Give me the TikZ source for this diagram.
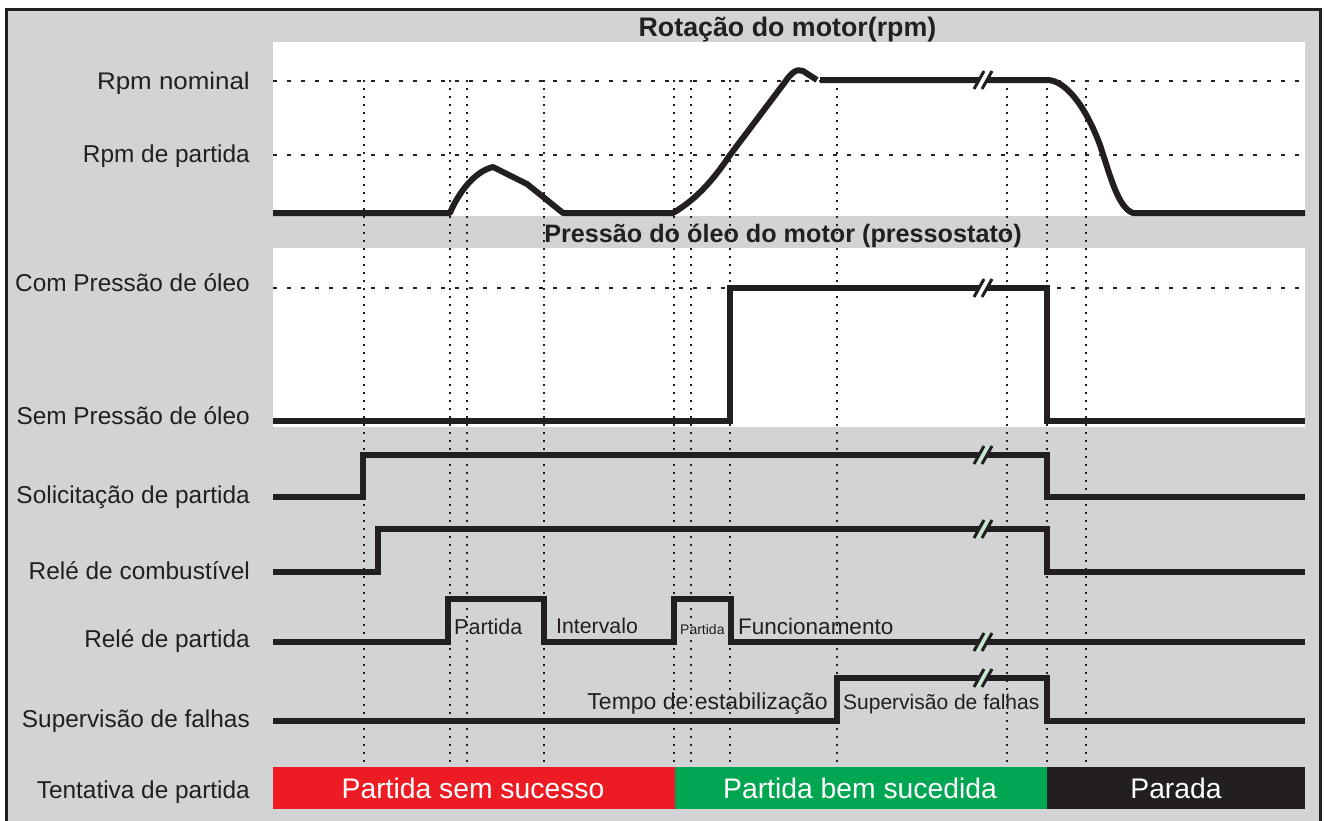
\documentclass[tikz,border=0pt]{standalone}
\usepackage{fontspec}
\setmainfont{Liberation Sans}
\newfontfamily\widefont[FakeStretch=1.08]{Liberation Sans}
\definecolor{ink}{HTML}{231F20}
\definecolor{bggray}{HTML}{D1D3D4}
\definecolor{barred}{HTML}{ED1C24}
\definecolor{bargreen}{HTML}{00A651}
\definecolor{brkgreen}{HTML}{C9E6D0}
\tikzset{
 lbl/.style={anchor=base east, font=\fontsize{24.4}{28}\selectfont, text=ink, inner sep=0pt},
 ttl/.style={anchor=base, text=ink, inner sep=0pt},
 sig/.style={line width=6pt, draw=ink, line join=miter},
 hdot/.style={line width=2.5pt, draw=ink, dash pattern=on 4pt off 10pt},
 vdot/.style={line width=2pt, draw=ink, dash pattern=on 2.2pt off 5.8pt},
 vdotb/.style={vdot, line width=2.8pt},
 inl/.style={anchor=base west, text=ink, inner sep=0pt},
 barlbl/.style={anchor=base, text=white, font=\fontsize{28.3}{33}\selectfont, inner sep=0pt},
 pics/brk/.style={code={
   \fill[#1] (-9,9) -- (1,-9) -- (9,-9) -- (-1,9) -- cycle;
   \draw[line width=3pt, ink] (-9,9) -- (1,-9) (-1,9) -- (9,-9);
 }},
}
\begin{document}
\begin{tikzpicture}[x=1pt,y=-1pt]
\clip (0,0) rectangle (1325,820);
% background and frame
\draw[line width=3pt, draw=ink, fill=bggray] (6.5,9.5) rectangle (1320,830);
% white panels
\fill[white] (273,42) rectangle (1305,216);
\fill[white] (273,248) rectangle (1305,427);
% horizontal dotted reference lines
\draw[hdot] (273,81) -- (1305,81);
\draw[hdot] (273,155) -- (1305,155);
\draw[hdot] (273,288) -- (1305,288);
% vertical dotted lines
\foreach \x in {364,450,544,674,1047} \draw[vdotb] (\x,80) -- (\x,767);
\foreach \x in {467,691,730,837,1007,1086} \draw[vdot] (\x,80) -- (\x,767);
% titles
\node[ttl, font=\bfseries\fontsize{26.8}{31}\selectfont] (t1) at (787.5,36) {Rotação do motor(rpm)};
\node[ttl, font=\bfseries\fontsize{25.2}{30}\selectfont] (t2) at (783,242) {Pressão do óleo do motor (pressostato)};
% rpm curve
\draw[sig, line join=round] (273,213) -- (450,213)
  .. controls (456,198) and (472,172) .. (493,167)
  -- (527,184) -- (537,192) -- (563,213) -- (673,213)
  .. controls (695,200) and (712,182) .. (730,155)
  -- (785,82) .. controls (791,73) and (797,68) .. (803,71) -- (817,80);
\draw[sig, line join=round] (820,80) -- (1047,80)
  .. controls (1065,80) and (1085,105) .. (1100,145)
  .. controls (1110,175) and (1118,208) .. (1133,213) -- (1305,213);
% oil pressure
\draw[sig] (273,421) -- (730,421) -- (730,288) -- (1047,288) -- (1047,421) -- (1305,421);
% solicitation
\draw[sig] (273,497) -- (363,497) -- (363,455) -- (1047,455) -- (1047,497) -- (1305,497);
% fuel relay
\draw[sig] (273,572) -- (378,572) -- (378,529) -- (1047,529) -- (1047,572) -- (1305,572);
% start relay
\draw[sig] (273,642) -- (448,642) -- (448,599) -- (544,599) -- (544,642) -- (674,642) -- (674,599) -- (731,599) -- (731,642) -- (1305,642);
% fault supervision
\draw[sig] (273,721) -- (837,721) -- (837,678) -- (1047,678) -- (1047,721) -- (1305,721);
% break marks
\pic at (983,80) {brk=white};
\pic at (983,288) {brk=white};
\pic at (983,455) {brk=brkgreen};
\pic at (983,529) {brk=brkgreen};
\pic at (983,642) {brk=brkgreen};
\pic at (983,678) {brk=brkgreen};
% left labels
\node[lbl, font=\widefont\fontsize{24}{28}\selectfont] (l1) at (250,89) {Rpm nominal};
\node[lbl] (l2) at (250,162) {Rpm de partida};
\node[lbl] (l3) at (250,291) {Com Pressão de óleo};
\node[lbl] (l4) at (250,424) {Sem Pressão de óleo};
\node[lbl] (l5) at (250,503) {Solicitação de partida};
\node[lbl] (l6) at (250,579) {Relé de combustível};
\node[lbl] (l7) at (250,647) {Relé de partida};
\node[lbl] (l8) at (250,727) {Supervisão de falhas};
\node[lbl] (l9) at (250,798) {Tentativa de partida};
% inner labels
\node[inl, font=\fontsize{21.5}{25}\selectfont] (p1) at (454,634) {Partida};
\node[inl, font=\fontsize{21.3}{25}\selectfont] (iv) at (556,633) {Intervalo};
\node[inl, font=\fontsize{14}{17}\selectfont] (p2) at (680,634) {Partida};
\node[inl, font=\fontsize{22.5}{26}\selectfont] (fn) at (738,634) {Funcionamento};
\node[inl, anchor=base east, font=\fontsize{23}{27}\selectfont] (te) at (828,709) {Tempo de estabilização};
\node[inl, font=\fontsize{21}{25}\selectfont] (sf) at (843,709) {Supervisão de falhas};
% bottom bar
\fill[barred] (273,767) rectangle (675,809);
\fill[bargreen] (675,767) rectangle (1047,809);
\fill[ink] (1047,767) rectangle (1305,809);
\node[barlbl] (b1) at (473,798) {Partida sem sucesso};
\node[barlbl] (b2) at (860,798) {Partida bem sucedida};
\node[barlbl] (b3) at (1176,798) {Parada};
\end{tikzpicture}
\end{document}
